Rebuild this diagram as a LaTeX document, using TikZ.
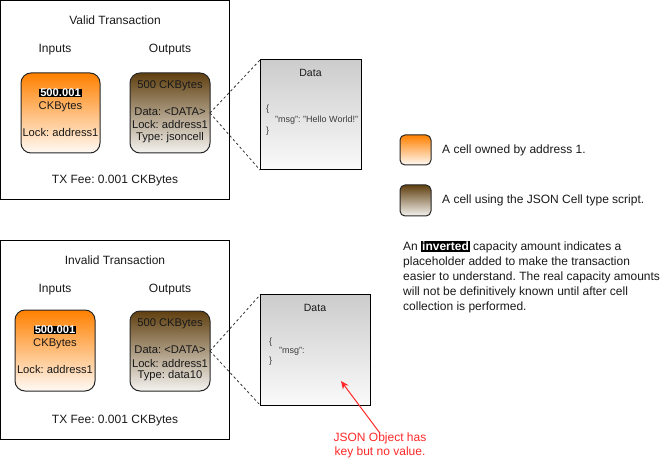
\documentclass[tikz,border=0pt]{standalone}
\usepackage{fontspec}
\setmainfont{Liberation Sans}
\usetikzlibrary{arrows.meta}
\definecolor{orangetop}{RGB}{255,128,0}
\definecolor{orangebot}{RGB}{255,250,245}
\definecolor{browntop}{RGB}{96,64,16}
\definecolor{brownbot}{RGB}{245,243,240}
\definecolor{graytop}{RGB}{204,204,204}
\definecolor{graybot}{RGB}{250,250,250}
\definecolor{txtc}{RGB}{25,25,25}
\definecolor{datatxt}{RGB}{60,60,60}
\definecolor{notered}{RGB}{255,40,40}
\frenchspacing
\begin{document}
\begin{tikzpicture}[x=1bp,y=-1bp,
  frame/.style={draw=black, line width=1bp, inner sep=0pt, outer sep=0pt, anchor=north west},
  cellbox/.style={draw=black!85, line width=1bp, rounded corners=10bp, inner sep=0pt, outer sep=0pt, anchor=north west},
  incell/.style={cellbox, top color=orangetop, bottom color=orangebot},
  outcell/.style={cellbox, top color=browntop, bottom color=brownbot},
  swatchin/.style={incell, rounded corners=5bp},
  swatchout/.style={outcell, rounded corners=5bp},
  databox/.style={frame, top color=graytop, bottom color=graybot},
  lbl/.style={font=\fontsize{12bp}{14bp}\selectfont, text=txtc, inner sep=0pt},
  clbl/.style={font=\fontsize{11.2bp}{13bp}\selectfont, text=txtc, inner sep=0pt},
  amt/.style={font=\fontsize{11.2bp}{13bp}\selectfont\bfseries, text=white, fill=black, inner xsep=1bp, inner ysep=0.5bp},
  dlbl/.style={font=\fontsize{10.5bp}{12bp}\selectfont, text=txtc, inner sep=0pt},
  dtxt/.style={font=\fontsize{9bp}{10bp}\selectfont, text=datatxt, inner sep=0pt, anchor=west},
  dashline/.style={draw=black!80, line width=0.8bp, dash pattern=on 2.5bp off 2.5bp},
  redarrow/.style={draw=notered, line width=1bp, -{Stealth[length=8bp,width=7bp]}}
]
\useasboundingbox (0,0) rectangle (661,462);

% ---------- Valid transaction ----------
\node[frame, minimum width=229bp, minimum height=199bp] (valid) at (0.5,0.5) {};
\node[lbl] (validtitle) at (115,20) {Valid Transaction};
\node[lbl] (inAlbl) at (55,50) {Inputs};
\node[lbl] (outAlbl) at (170,50) {Outputs};
\node[incell, minimum width=79bp, minimum height=80bp] (inA) at (21,73) {};
\node[amt] (inAamt) at (60.5,93) {500.001};
\node[clbl] (inAunit) at (60.5,107) {CKBytes};
\node[clbl] (inAlock) at (60.5,132) {Lock: address1};
\node[outcell, minimum width=80bp, minimum height=80bp] (outA) at (130,73) {};
\node[clbl] (outAamt) at (170,86) {500 CKBytes};
\node[clbl] (outAdata) at (170,112) {Data: <DATA>};
\node[clbl] (outAlock) at (170,125) {Lock: address1};
\node[clbl] (outAtype) at (170,138) {Type: jsoncell};
\node[lbl] (feeA) at (115,181) {TX Fee: 0.001 CKBytes};

\node[databox, minimum width=101bp, minimum height=110bp] (dataA) at (260,60) {};
\node[dlbl] (dataAtitle) at (310.5,73) {Data};
\node[dtxt] (dataAo) at (266,109) {\{};
\node[dtxt] (dataAm) at (275,120) {"msg": "Hello World!"};
\node[dtxt] (dataAc) at (266,131) {\}};
\draw[dashline] (outA.east) -- (dataA.north west);
\draw[dashline] (outA.east) -- (dataA.south west);

% ---------- Invalid transaction ----------
\node[frame, minimum width=229bp, minimum height=199bp] (invalid) at (0.5,240.5) {};
\node[lbl] (invalidtitle) at (115,260) {Invalid Transaction};
\node[lbl] (inBlbl) at (55,290) {Inputs};
\node[lbl] (outBlbl) at (170,290) {Outputs};
\node[incell, minimum width=80bp, minimum height=81bp] (inB) at (15,310) {};
\node[amt] (inBamt) at (55,330) {500.001};
\node[clbl] (inBunit) at (55,344) {CKBytes};
\node[clbl] (inBlock) at (55,369) {Lock: address1};
\node[outcell, minimum width=80bp, minimum height=80bp] (outB) at (130,311) {};
\node[clbl] (outBamt) at (170,324) {500 CKBytes};
\node[clbl] (outBdata) at (170,350) {Data: <DATA>};
\node[clbl] (outBlock) at (170,363) {Lock: address1};
\node[clbl] (outBtype) at (170,376) {Type: data10};
\node[lbl] (feeB) at (115,421) {TX Fee: 0.001 CKBytes};

\node[databox, minimum width=110bp, minimum height=110bp] (dataB) at (260,295) {};
\node[dlbl] (dataBtitle) at (315,308) {Data};
\node[dtxt] (dataBo) at (269,342) {\{};
\node[dtxt] (dataBm) at (279,351) {"msg":};
\node[dtxt] (dataBc) at (269,361) {\}};
\draw[dashline] (outB.east) -- (dataB.north west);
\draw[dashline] (outB.east) -- (dataB.south west);

% ---------- Note ----------
\node[lbl, text=notered, align=center, font=\fontsize{12bp}{14bp}\selectfont] (note) at (380,445) {JSON Object has\\key but no value.};
\coordinate (tip) at (341,381);
\draw[redarrow] ([yshift=-1bp]note.north) -- (tip);

% ---------- Legend ----------
\node[swatchin, minimum width=31bp, minimum height=30bp] (legA) at (400,135) {};
\node[lbl, anchor=west] (legAtxt) at (442,150) {A cell owned by address 1.};
\node[swatchout, minimum width=31bp, minimum height=31bp] (legB) at (400,185) {};
\node[lbl, anchor=west] (legBtxt) at (442,200.5) {A cell using the JSON Cell type script.};

\node[lbl, anchor=north west, align=left, font=\fontsize{12bp}{14.8bp}\selectfont] (para) at (403,241) {An {\setlength{\fboxsep}{1bp}\colorbox{black}{\textcolor{white}{\bfseries inverted}}} capacity amount indicates a\\placeholder added to make the transaction\\easier to understand. The real capacity amounts\\will not be definitively known until after cell\\collection is performed.};
\end{tikzpicture}
\end{document}
